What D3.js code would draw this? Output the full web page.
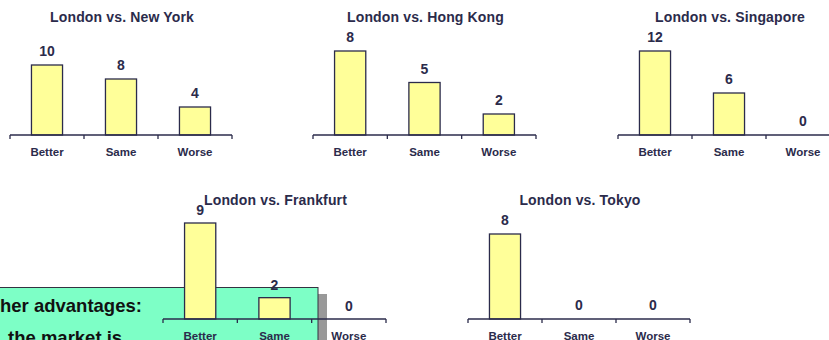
<!DOCTYPE html>
<html><head><meta charset="utf-8">
<script src="https://cdn.jsdelivr.net/npm/d3@7"></script>
<style>
html,body{margin:0;padding:0;background:#fff;overflow:hidden;}
svg{display:block;font-family:"Liberation Sans",Arial,sans-serif;}
</style></head>
<body>
<svg id="c" width="829" height="340"></svg>
<script>
// ---- data ----
const categories = ["Better", "Same", "Worse"];
const titles = ["London vs. New York", "London vs. Hong Kong", "London vs. Singapore", "London vs. Frankfurt", "London vs. Tokyo"];
const newYork   = [10, 8, 4];
const hongKong  = [8, 5, 2];
const singapore = [12, 6, 0];
const frankfurt = [9, 2, 0];
const tokyo     = [8, 0, 0];
const axisMax   = [12, 8, 12, 9, 8];
const boxLines  = ["her advantages:", "the market is"];

// ---- layout ----
const panels = [
  {x0: 10,  x1: 232, base: 135, h: 84, titleY: 22,  values: newYork},
  {x0: 313, x1: 536, base: 135, h: 84, titleY: 22,  values: hongKong},
  {x0: 618, x1: 840, base: 135, h: 84, titleY: 22,  values: singapore},
  {x0: 163, x1: 386, base: 319, h: 96, titleY: 205, values: frankfurt},
  {x0: 468, x1: 690, base: 319, h: 85, titleY: 205, values: tokyo}
];
const ink = "#2b2b4b";
const svg = d3.select("#c");

// green text box (behind charts)
const box = svg.append("g");
box.append("rect").attr("x", 318).attr("y", 294).attr("width", 9).attr("height", 60).attr("fill", "#999999");
box.append("rect").attr("x", -10).attr("y", 287.5).attr("width", 328).attr("height", 70)
  .attr("fill", "#7dffc6").attr("stroke", "#333340").attr("stroke-width", 1);
box.append("text").attr("x", 0).attr("y", 312).attr("font-size", 18.5).attr("font-weight", "bold")
  .attr("fill", "#111").text(boxLines[0]);
box.append("text").attr("x", 8).attr("y", 344).attr("font-size", 18.5).attr("font-weight", "bold")
  .attr("fill", "#111").text(boxLines[1]);

panels.forEach((p, i) => {
  const g = svg.append("g");
  const x = d3.scaleBand().domain(categories).range([p.x0, p.x1]).paddingInner(0.58).paddingOuter(0.29);
  const y = d3.scaleLinear().domain([0, axisMax[i]]).range([p.base, p.base - p.h]);

  g.append("text").attr("x", (p.x0 + p.x1) / 2 + 1).attr("y", p.titleY).attr("text-anchor", "middle")
    .attr("font-size", 14).attr("letter-spacing", 0.15).attr("font-weight", "bold").attr("fill", ink).text(titles[i]);

  const data = categories.map((c, k) => ({c, v: p.values[k]}));
  g.selectAll("rect.bar").data(data.filter(d => d.v > 0)).join("rect").attr("class", "bar")
    .attr("x", d => x(d.c)).attr("width", x.bandwidth())
    .attr("y", d => y(d.v)).attr("height", d => p.base - y(d.v))
    .attr("fill", "#ffff99").attr("stroke", ink).attr("stroke-width", 1.3);

  g.selectAll("text.val").data(data).join("text").attr("class", "val")
    .attr("x", d => x(d.c) + x.bandwidth() / 2).attr("y", d => y(d.v) - (i === 3 ? 8 : 9))
    .attr("text-anchor", "middle").attr("font-size", 14).attr("font-weight", "bold").attr("fill", ink)
    .text(d => d.v);

  // axis line and ticks at band boundaries
  const edges = d3.range(categories.length + 1).map(k => p.x0 + k * (p.x1 - p.x0) / categories.length);
  g.append("line").attr("x1", p.x0).attr("x2", p.x1).attr("y1", p.base).attr("y2", p.base)
    .attr("stroke", ink).attr("stroke-width", 1.5);
  g.selectAll("line.tk").data(edges).join("line").attr("class", "tk")
    .attr("x1", d => d).attr("x2", d => d).attr("y1", p.base).attr("y2", p.base + 4)
    .attr("stroke", ink).attr("stroke-width", 1.3);
  g.selectAll("text.cat").data(categories).join("text").attr("class", "cat")
    .attr("x", d => x(d) + x.bandwidth() / 2).attr("y", p.base + 21)
    .attr("text-anchor", "middle").attr("font-size", 11.5).attr("font-weight", "bold").attr("fill", ink)
    .text(d => d);
});
</script>
</body></html>
